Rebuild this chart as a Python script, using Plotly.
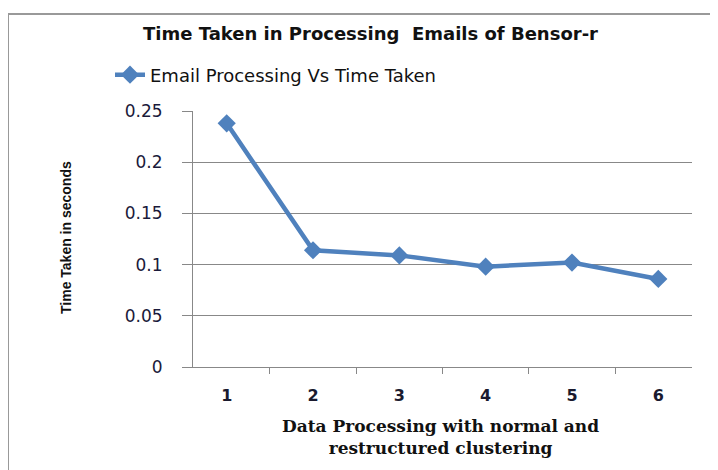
import plotly.graph_objects as go

categories = ["1", "2", "3", "4", "5", "6"]
time_taken = [0.238, 0.114, 0.109, 0.098, 0.102, 0.086]
y_ticks = [0, 0.05, 0.1, 0.15, 0.2, 0.25]
y_tick_labels = ["0", "0.05", "0.1", "0.15", "0.2", "0.25"]

OFF = 8  # page body margin offset
W, H = 718, 470
# desired plot area in page coordinates
PL, PR, PT, PB = 193, 692, 111, 367
L = PL - OFF
T = PT - OFF
R = W - (PR - OFF)
B = H - (PB - OFF)
pw = PR - PL
ph = PB - PT

def px(x):
    return (x - PL) / pw

def py(y):
    return (PB - y) / ph

fig = go.Figure()
fig.add_trace(go.Scatter(
    x=categories, y=time_taken, mode="lines+markers",
    name="Email Processing Vs Time Taken",
    line=dict(color="#4F81BD", width=4.5),
    marker=dict(symbol="diamond", size=14, color="#4F81BD"),
))

fig.update_layout(
    width=W, height=H,
    margin=dict(l=L, r=R, t=T, b=B),
    paper_bgcolor="white", plot_bgcolor="white",
    showlegend=True,
    legend=dict(orientation="h", x=px(110), xanchor="left", y=py(75), yanchor="middle",
                font=dict(family="DejaVu Sans", size=18, color="#111111"),
                bgcolor="rgba(0,0,0,0)"),
    xaxis=dict(type="category", tickson="boundaries", ticks="outside", ticklen=6,
               tickcolor="#888888", showgrid=False, showline=True, linecolor="#888888",
               linewidth=1, ticklabelstandoff=14,
               tickfont=dict(family="DejaVu Sans", size=16, color="#1a1a2e", weight="bold")),
    yaxis=dict(range=[0, 0.25], tickvals=y_ticks, ticktext=y_tick_labels,
               ticks="outside", ticklen=10, tickcolor="#888888",
               showgrid=True, gridcolor="#888888", gridwidth=1,
               showline=True, linecolor="#888888", linewidth=1, zeroline=False,
               ticklabelstandoff=16,
               tickfont=dict(family="DejaVu Sans", size=17, color="#1a1a3a")),
    annotations=[
        dict(text="<b>Time Taken in Processing  Emails of Bensor-r</b>",
             xref="paper", yref="paper", x=px(370), y=py(33),
             xanchor="center", yanchor="middle", showarrow=False,
             font=dict(family="DejaVu Sans", size=18, color="#111111")),
        dict(text="<b>Time Taken in seconds</b>", textangle=-90,
             xref="paper", yref="paper", x=px(66), y=py(238),
             xanchor="center", yanchor="middle", showarrow=False,
             font=dict(family="Liberation Sans Narrow, Liberation Sans", size=14, color="#111111")),
        dict(text="<b>Data Processing with normal and<br>restructured clustering</b>",
             xref="paper", yref="paper", x=px(440), y=py(437),
             xanchor="center", yanchor="middle", showarrow=False,
             font=dict(family="DejaVu Serif", size=17, color="#111111")),
    ],
    shapes=[dict(type="rect", xref="paper", yref="paper",
                 x0=px(8), x1=px(780), y0=py(540), y1=py(14),
                 line=dict(color="#999999", width=2), fillcolor="rgba(0,0,0,0)")],
)

fig.write_html("out.html")
